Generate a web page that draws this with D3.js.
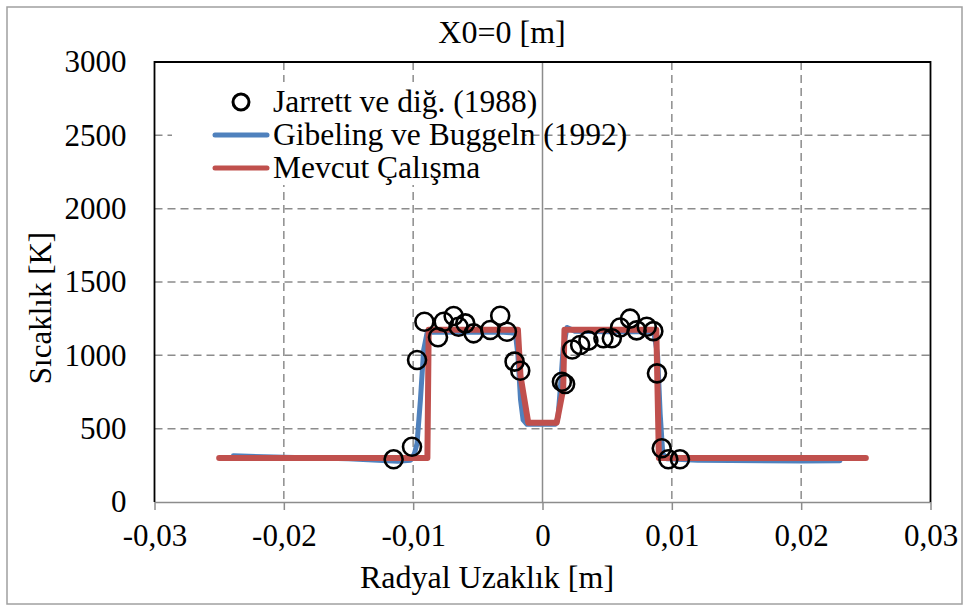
<!DOCTYPE html>
<html>
<head>
<meta charset="utf-8">
<script src="https://cdn.jsdelivr.net/npm/d3@7"></script>
<style>
  body { margin: 0; background: #fff; }
</style>
</head>
<body>
<div id="chart"></div>
<script>
// Jarrett ve diğ. (1988) - measured points
const jarrettX = [-0.01151, -0.01009, -0.0097, -0.00913, -0.00808, -0.00764, -0.00687, -0.00649, -0.00597,
  -0.00533, -0.00404, -0.00327, -0.00275, -0.00216, -0.00172, 0.0015, 0.00175, 0.0023, 0.00291, 0.00355,
  0.00471, 0.00536, 0.0060, 0.00677, 0.00728, 0.00806, 0.00857, 0.00885, 0.00922, 0.00973, 0.01063];
const jarrettT = [291, 377, 968, 1229, 1123, 1229, 1268, 1195, 1218,
  1150, 1173, 1270, 1161, 957, 895, 820, 805, 1040, 1070, 1100,
  1116, 1116, 1190, 1250, 1170, 1195, 1165, 877, 366, 291, 291];

// Gibeling ve Buggeln (1992)
const gibelingX = [-0.0239, -0.02, -0.015, -0.0112, -0.0102, -0.0099, -0.0097, -0.00944, -0.00919, -0.00893,
  -0.0088, -0.006, -0.003, -0.0021, -0.0019, -0.0017, -0.0015, -0.0012, 0.0010, 0.0012, 0.0014,
  0.0016, 0.0019, 0.0025, 0.005, 0.0086, 0.0089, 0.0091, 0.0093, 0.0096, 0.012, 0.02, 0.023];
const gibelingT = [315, 305, 295, 278, 285, 330, 400, 695, 1036, 1150,
  1158, 1158, 1158, 1150, 1000, 700, 560, 530, 530, 580, 800,
  1050, 1190, 1165, 1160, 1160, 1000, 600, 330, 295, 285, 280, 282];

// Mevcut Çalışma
const mevcutX = [-0.025, -0.0089, -0.0088, -0.0019, -0.0017, -0.0011, 0.0011, 0.0016, 0.0017, 0.0088, 0.0090, 0.025];
const mevcutT = [300, 300, 1175, 1175, 860, 540, 540, 770, 1175, 1175, 300, 300];

const xTicks = [-0.03, -0.02, -0.01, 0, 0.01, 0.02, 0.03];
const yTicks = [0, 500, 1000, 1500, 2000, 2500, 3000];

const legendNames = ["Jarrett ve diğ. (1988)", "Gibeling ve Buggeln (1992)", "Mevcut Çalışma"];

let W = 969, H = 606;
let plotL = 154.5, plotR = 930.5, plotT = 62, plotB = 502;
let blue = "#4f81bd", red = "#c0504d", gridCol = "#8c8c8c";
let serif = "'Liberation Serif', 'Times New Roman', Tinos, 'DejaVu Serif', serif";

let svg = d3.select("#chart").append("svg")
  .attr("width", W)
  .attr("height", H)
  .style("font-family", serif);

// outer chart border
svg.append("rect")
  .attr("x", 7).attr("y", 7)
  .attr("width", 955).attr("height", 597)
  .attr("fill", "#fff")
  .attr("stroke", "#a0a0a0")
  .attr("stroke-width", 1.5);

let x = d3.scaleLinear().domain([-0.03, 0.03]).range([plotL, plotR]);
let y = d3.scaleLinear().domain([0, 3000]).range([plotB, plotT]);

let fmt = (d) => d === 0 ? "0" : String(d).replace(".", ",");

// dashed grid
svg.append("g").selectAll("line")
  .data(yTicks.filter(d => d > 0 && d < 3000))
  .enter().append("line")
  .attr("x1", plotL).attr("x2", plotR)
  .attr("y1", d => y(d)).attr("y2", d => y(d))
  .attr("stroke", gridCol)
  .attr("stroke-width", 1.5)
  .attr("stroke-dasharray", "8,5");

svg.append("g").selectAll("line")
  .data(xTicks.filter(d => d !== 0 && Math.abs(d) < 0.03))
  .enter().append("line")
  .attr("x1", d => x(d)).attr("x2", d => x(d))
  .attr("y1", plotT).attr("y2", plotB)
  .attr("stroke", gridCol)
  .attr("stroke-width", 1.5)
  .attr("stroke-dasharray", "8,5");

// vertical axis line at x = 0
svg.append("line")
  .attr("x1", x(0)).attr("x2", x(0))
  .attr("y1", plotT).attr("y2", plotB)
  .attr("stroke", "#8c8c8c")
  .attr("stroke-width", 1.5);

// x axis (bottom) with ticks
let xAxis = svg.append("g")
  .attr("transform", "translate(0," + plotB + ")")
  .call(d3.axisBottom(x).tickValues(xTicks).tickFormat(fmt).tickSizeInner(8).tickSizeOuter(0).tickPadding(14))
  .attr("font-family", null);
xAxis.select(".domain").attr("stroke", "#8c8c8c").attr("stroke-width", 1.5);
xAxis.selectAll(".tick line").attr("stroke", "#8c8c8c").attr("stroke-width", 1.5);
xAxis.selectAll("text").style("font-family", serif).style("font-size", "31px").attr("fill", "#000");

// y axis labels
let yAxis = svg.append("g")
  .attr("transform", "translate(" + plotL + ",0)")
  .call(d3.axisLeft(y).tickValues(yTicks).tickFormat(d3.format("d")).tickSize(0).tickPadding(28))
  .attr("font-family", null);
yAxis.select(".domain").remove();
yAxis.selectAll("text").style("font-family", serif).style("font-size", "31px").attr("fill", "#000");

// plot frame: left, top, right in black
svg.append("path")
  .attr("d", "M" + plotL + "," + plotB + "V" + plotT + "H" + plotR + "V" + plotB)
  .attr("fill", "none")
  .attr("stroke", "#000")
  .attr("stroke-width", 1.8);

// series lines
let line = d3.line()
  .x(d => x(d[0]))
  .y(d => y(d[1]));

svg.append("path")
  .datum(d3.zip(gibelingX, gibelingT))
  .attr("d", line)
  .attr("fill", "none")
  .attr("stroke", blue)
  .attr("stroke-width", 5)
  .attr("stroke-linejoin", "round")
  .attr("stroke-linecap", "round");

svg.append("path")
  .datum(d3.zip(mevcutX, mevcutT))
  .attr("d", line)
  .attr("fill", "none")
  .attr("stroke", red)
  .attr("stroke-width", 6)
  .attr("stroke-linejoin", "round")
  .attr("stroke-linecap", "round");

// measured points
svg.append("g").selectAll("circle")
  .data(d3.zip(jarrettX, jarrettT))
  .enter().append("circle")
  .attr("cx", d => x(d[0]))
  .attr("cy", d => y(d[1]))
  .attr("r", 9)
  .attr("fill", "none")
  .attr("stroke", "#000")
  .attr("stroke-width", 2.6);

// titles
svg.append("text")
  .attr("x", 502).attr("y", 43)
  .attr("text-anchor", "middle")
  .style("font-size", "32px")
  .text("X0=0 [m]");

svg.append("text")
  .attr("x", 487).attr("y", 588)
  .attr("text-anchor", "middle")
  .style("font-size", "32px")
  .text("Radyal Uzaklık [m]");

svg.append("text")
  .attr("transform", "translate(51,308) rotate(-90)")
  .attr("text-anchor", "middle")
  .style("font-size", "31px")
  .text("Sıcaklık [K]");

// legend
let legend = svg.append("g");
legend.append("rect")
  .attr("x", 172).attr("y", 82)
  .attr("width", 351).attr("height", 103)
  .attr("fill", "#fff");

let rows = legend.selectAll("g.row")
  .data(legendNames)
  .enter().append("g")
  .attr("class", "row")
  .attr("transform", (d, i) => "translate(0," + (102 + i * 33) + ")");

rows.append("text")
  .attr("x", 273).attr("y", 10)
  .style("font-size", "31.5px")
  .text(d => d);

rows.filter((d, i) => i === 0).append("circle")
  .attr("cx", 241).attr("cy", 0)
  .attr("r", 8)
  .attr("fill", "none")
  .attr("stroke", "#000")
  .attr("stroke-width", 3);

rows.filter((d, i) => i > 0).append("line")
  .attr("x1", 215).attr("x2", 267)
  .attr("y1", 0).attr("y2", 0)
  .attr("stroke", (d, i) => i === 0 ? blue : red)
  .attr("stroke-width", 5)
  .attr("stroke-linecap", "round");
</script>
</body>
</html>
